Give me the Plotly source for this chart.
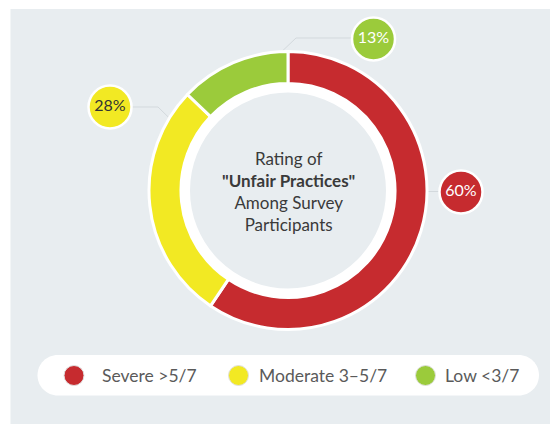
import plotly.graph_objects as go

# ---- data ----
categories = ["Severe >5/7", "Moderate 3–5/7", "Low <3/7"]
values = [60, 28, 13]
labels = ["60%", "28%", "13%"]
colors = ["#C62B2F", "#F2E923", "#9BCB3B"]
label_text_colors = ["#FFFFFF", "#333333", "#FFFFFF"]

# ---- layout constants (pixels) ----
W, H = 550, 424
BG = "#E8EDF0"
FONT = "Lato"
cx, cy, R = 288, 190.5, 139
hole = 0.77

bubble_pos = [(461, 192), (110, 107), (373.5, 39)]
leader_paths = [
    "M 412 191.5 L 440 191.5",
    "M 180.5 129 L 158 107 L 89 107",
    "M 275 58 L 296 38 L 352 38",
]
legend_circle_x = [74, 238.5, 425.5]
legend_text_x = [100, 256.5, 443]
legend_y = 375.5


def pill(x0, x1, y0, y1):
    r = (y1 - y0) / 2
    k = 0.5523 * r
    ym = (y0 + y1) / 2
    a, b = x0 + r, x1 - r
    return (f"M {a} {y0} L {b} {y0} "
            f"C {b + k} {y0} {x1} {ym - k} {x1} {ym} "
            f"C {x1} {ym + k} {b + k} {y1} {b} {y1} "
            f"L {a} {y1} "
            f"C {a - k} {y1} {x0} {ym + k} {x0} {ym} "
            f"C {x0} {ym - k} {a - k} {y0} {a} {y0} Z")


fig = go.Figure()

# donut
fig.add_trace(go.Pie(
    values=values, labels=categories, sort=False, direction="clockwise", rotation=0,
    hole=hole, textinfo="none", hoverinfo="label+value",
    marker=dict(colors=colors, line=dict(color="white", width=3)),
    domain=dict(x=[(cx - R) / W, (cx + R) / W], y=[(H - cy - R) / H, (H - cy + R) / H]),
    showlegend=False,
))

# value bubbles
fig.add_trace(go.Scatter(
    x=[p[0] for p in bubble_pos], y=[p[1] for p in bubble_pos],
    mode="markers+text", text=labels, textposition="middle center",
    textfont=dict(family=FONT, size=16, color=label_text_colors),
    marker=dict(size=43, color=colors, line=dict(color="white", width=2.5)),
    showlegend=False, hoverinfo="skip", cliponaxis=False,
))

# legend markers
fig.add_trace(go.Scatter(
    x=legend_circle_x, y=[legend_y] * 3, mode="markers",
    marker=dict(size=20, color=colors, line=dict(color="#E0E0E0", width=1)),
    showlegend=False, hoverinfo="skip", cliponaxis=False,
))

shapes = [
    # grey panel
    dict(type="rect", xref="x", yref="y", x0=10.5, y0=9, x1=W + 5, y1=H + 5,
         fillcolor=BG, line=dict(width=0), layer="below"),
    # white ring inside hole
    dict(type="circle", xref="x", yref="y", x0=cx - 102.5, y0=cy - 102.5, x1=cx + 102.5, y1=cy + 102.5,
         line=dict(color="white", width=9), fillcolor="rgba(0,0,0,0)", layer="above"),
    # legend pill
    dict(type="path", xref="x", yref="y", path=pill(37.5, 539, 355, 395.5),
         fillcolor="white", line=dict(width=0), layer="below"),
]
for p in leader_paths:
    shapes.append(dict(type="path", xref="x", yref="y", path=p,
                       line=dict(color="#D3D9DD", width=1), layer="below"))

annotations = [
    dict(x=cx, y=cy + 1, xref="x", yref="y", showarrow=False,
         text='Rating of<br><b>"Unfair Practices"</b><br>Among Survey<br>Participants',
         font=dict(family=FONT, size=17, color="#3A3A3A"), align="center",
         xanchor="center", yanchor="middle"),
]
for tx, cat in zip(legend_text_x, categories):
    annotations.append(dict(x=tx, y=legend_y, xref="x", yref="y", showarrow=False, text=cat,
                            font=dict(family=FONT, size=17.5, color="#5A5A5A"),
                            xanchor="left", yanchor="middle"))

fig.update_layout(
    width=W, height=H, margin=dict(l=0, r=0, t=0, b=0),
    paper_bgcolor="white", plot_bgcolor="white",
    xaxis=dict(range=[0, W], visible=False, fixedrange=True),
    yaxis=dict(range=[H, 0], visible=False, fixedrange=True),
    shapes=shapes, annotations=annotations,
)

fig.write_html("out.html")
